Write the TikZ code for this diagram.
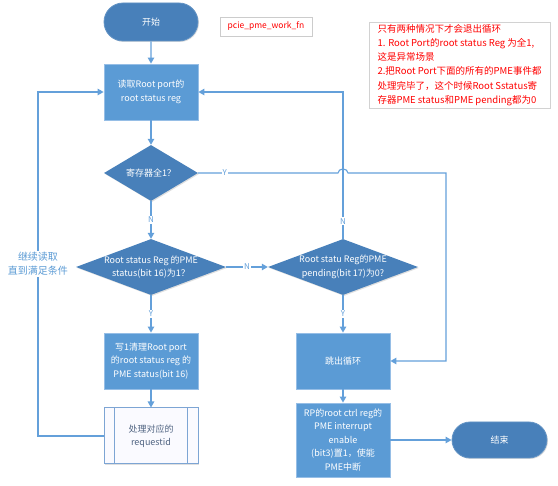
\documentclass[tikz,border=0pt]{standalone}
\usepackage{fontspec}
\setmainfont{Noto Sans CJK SC}
\usetikzlibrary{arrows.meta, shapes.geometric, shapes.misc, shadows}

\definecolor{boxblue}{RGB}{91,155,213}
\definecolor{darkblue}{RGB}{72,128,186}
\definecolor{lineblue}{RGB}{100,160,218}
\definecolor{edgeblue}{RGB}{150,190,230}
\definecolor{procedge}{RGB}{125,165,212}
\definecolor{proctext}{RGB}{80,100,130}

\tikzset{
  base/.style={font=\fontsize{9}{13.5}\selectfont, align=center, inner sep=0pt},
  shade/.style={drop shadow={shadow xshift=1pt, shadow yshift=-1pt, opacity=0.25}},
  process/.style={base, shade, rectangle, fill=boxblue, draw=edgeblue, line width=0.8pt,
    text=white, minimum width=94pt, minimum height=56pt},
  terminal/.style={base, shade, rounded rectangle, fill=darkblue, draw=darkblue!85!white,
    line width=0.8pt, text=white, minimum width=94pt, minimum height=38pt},
  decision/.style={shade, diamond, fill=darkblue, inner sep=0pt,
    minimum width=150pt, minimum height=56pt},
  dtext/.style={base, text=white},
  predef/.style={base, shade, rectangle, fill=blue!2, draw=procedge, line width=1pt,
    text=proctext, minimum width=94pt, minimum height=56pt},
  flow/.style={draw=lineblue, line width=1.1pt, -{Triangle[length=6pt,width=6.5pt]}},
  yn/.style={font=\fontsize{8}{8}\selectfont, text=lineblue, fill=white, inner sep=1pt},
  loopnote/.style={font=\fontsize{10}{14}\selectfont, align=center, text=boxblue,
    fill=white, inner sep=1pt},
  func/.style={shade, draw=gray!40, fill=white, text=red, font=\fontsize{8.5}{10}\selectfont,
    minimum width=92pt, minimum height=19pt, inner sep=1pt},
  note/.style={shade, draw=gray!35, fill=white, text=red, align=left,
    font=\fontsize{9.5}{14.3}\selectfont, minimum width=181pt, minimum height=86pt,
    inner xsep=3pt, inner ysep=1pt}
}

\begin{document}
\begin{tikzpicture}[x=1pt, y=-1pt]
  \useasboundingbox (0,0) rectangle (558,486);

  % 左列：开始 -> 读取 -> 判断 -> 清理 -> 处理
  \node[terminal] (start) at (151,22) {开始};
  \node[func] (fn) at (266,26.5) {pcie\_pme\_work\_fn};
  \node[process] (read) at (151,92) {读取Root port的\\root status reg};
  \node[decision, minimum width=94pt] (full) at (151,173) {};
  \node[dtext] (fulltxt) at (full) {寄存器全1？};
  \node[decision] (status) at (151,267) {};
  \node[dtext] (statustxt) at (status) {Root status Reg 的PME\\status(bit 16)为1？};
  \node[process] (clear) at (151,361) {写1清理Root port\\的root status reg 的\\PME status(bit 16)};
  \node[predef] (handle) at (151,436) {处理对应的\\requestid};
  \draw[procedge, line width=1pt] ([xshift=11pt]handle.north west) -- ([xshift=11pt]handle.south west);
  \draw[procedge, line width=1pt] ([xshift=-11pt]handle.north east) -- ([xshift=-11pt]handle.south east);

  % 右列：pending 判断 -> 跳出循环 -> 使能中断 -> 结束
  \node[decision] (pending) at (343,267) {};
  \node[dtext] (pendingtxt) at (pending) {Root statu Reg的PME\\pending(bit 17)为0?};
  \node[process] (exit) at (343,361) {跳出循环};
  \node[process, minimum height=74pt] (rpctrl) at (343,440)
    {RP的root ctrl reg的\\PME interrupt\\enable\\(bit3)置1，使能\\PME中断};
  \node[terminal, minimum width=95pt, minimum height=36pt] (end) at (499.5,440) {结束};

  % 说明
  \node[note] (cond) at (459.5,65) {只有两种情况下才会退出循环\\
    1. Root Port的root status Reg 为全1,\\
    这是异常场景\\
    2.把Root Port下面的所有的PME事件都\\
    处理完毕了，这个时候Root Sstatus寄\\
    存器PME status和PME pending都为0};

  % 主流程
  \draw[flow] (start) -- (read);
  \draw[flow] (read) -- (full);
  \draw[flow] (full) -- node[yn]{N} (status);
  \draw[flow] (status) -- node[yn]{N} (pending);
  \draw[flow] (status) -- node[yn]{Y} (clear);
  \draw[flow] (clear) -- (handle);
  \draw[flow] (pending) -- node[yn]{Y} (exit);
  \draw[flow] (exit) -- (rpctrl);
  \draw[flow] (rpctrl) -- (end);

  % pending 为 N 时回到读取
  \coordinate (nturn) at (343,92);
  \draw[flow] (pending) -- node[yn, pos=0.12]{N} (nturn) -- (read);

  % 全1 时直接跳出，跨线处画一个小弧
  \coordinate (hop) at (338,173);
  \coordinate (yturn) at (446,173);
  \draw[flow] (full) -- node[yn, pos=0.19]{Y} (hop)
    arc[start angle=180, end angle=360, x radius=5, y radius=4] -- (yturn) |- (exit);

  % 继续读取
  \coordinate (lbot) at (38,436);
  \coordinate (ltop) at (38,92);
  \draw[flow] (handle) -- (lbot) -- node[loopnote]{继续读取\\直到满足条件} (ltop) -- (read);
\end{tikzpicture}
\end{document}
